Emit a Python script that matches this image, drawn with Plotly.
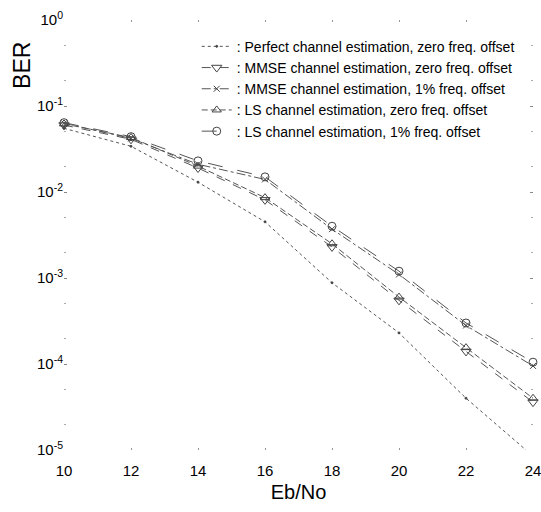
import plotly.graph_objects as go

ebno = [10, 12, 14, 16, 18, 20, 22, 24]

ber_perfect = [0.055, 0.034, 0.013, 0.0045, 0.00088, 0.00023, 0.00004, 0.0000085]
ber_mmse_zero = [0.060, 0.041, 0.019, 0.0081, 0.0023, 0.00055, 0.00014, 0.000036]
ber_ls_zero = [0.062, 0.043, 0.020, 0.0086, 0.0025, 0.00060, 0.000155, 0.000040]
ber_mmse_1pct = [0.063, 0.042, 0.021, 0.0140, 0.0037, 0.00110, 0.00028, 0.000095]
ber_ls_1pct = [0.064, 0.044, 0.023, 0.0150, 0.0040, 0.00120, 0.00030, 0.000105]

series_names = [
    ": Perfect channel estimation, zero freq. offset",
    ": MMSE channel estimation, zero freq. offset",
    ": MMSE channel estimation, 1% freq. offset",
    ": LS channel estimation, zero freq. offset",
    ": LS channel estimation, 1% freq. offset",
]

y_tickvals = [1, 0.1, 0.01, 0.001, 0.0001, 0.00001]
y_ticktext = ["10<sup>0</sup>", "10<sup>-1</sup>", "10<sup>-2</sup>",
              "10<sup>-3</sup>", "10<sup>-4</sup>", "10<sup>-5</sup>"]
x_tickvals = [10, 12, 14, 16, 18, 20, 22, 24]
x_ticktext = ["10", "12", "14", "16", "18", "20", "22", "24"]

series = [
    (ber_perfect, dict(dash="dot", width=1), dict(symbol="circle", size=2)),
    (ber_mmse_zero, dict(dash="dash", width=1), dict(symbol="triangle-down-open", size=9)),
    (ber_mmse_1pct, dict(dash="dashdot", width=1), dict(symbol="x-thin-open", size=6)),
    (ber_ls_zero, dict(dash="6px,3px", width=1), dict(symbol="triangle-up-open", size=8)),
    (ber_ls_1pct, dict(dash="longdash", width=1), dict(symbol="circle-open", size=8)),
]

fig = go.Figure()
for (vals, line, marker), name in zip(series, series_names):
    fig.add_trace(go.Scatter(
        x=ebno, y=vals, name=name, mode="lines+markers", cliponaxis=False,
        line=dict(color="#555555", **line),
        marker=dict(color="#444444", line=dict(color="#444444", width=1), **marker),
    ))

fig.add_annotation(
    text="BER", xref="paper", yref="paper", x=-0.09, y=0.895,
    xanchor="center", yanchor="middle", textangle=-90, showarrow=False,
    font=dict(size=23, color="black"),
)

fig.update_layout(
    width=541, height=512,
    margin=dict(l=64, r=8, t=20, b=62),
    paper_bgcolor="white", plot_bgcolor="white",
    font=dict(family="Liberation Sans, Arial, sans-serif", color="black"),
    showlegend=True,
    legend=dict(
        x=0.283, y=0.975, xanchor="left", yanchor="top",
        bgcolor="rgba(0,0,0,0)", borderwidth=0,
        font=dict(size=14, color="black"),
        itemwidth=30, tracegroupgap=0,
    ),
    xaxis=dict(
        range=[10, 24], tickvals=x_tickvals, ticktext=x_ticktext,
        automargin=False, ticklabeloverflow="allow", ticklabelstandoff=10,
        showgrid=False, zeroline=False, showline=False,
        ticks="inside", ticklen=2, tickcolor="#999999", mirror="ticks",
        tickfont=dict(size=15),
        title=dict(text="Eb/No", font=dict(size=20), standoff=6),
    ),
    yaxis=dict(
        type="log", range=[-5, 0], automargin=False,
        tickvals=y_tickvals, ticktext=y_ticktext,
        showgrid=False, zeroline=False, showline=False,
        ticks="inside", ticklen=3, tickcolor="#888888", mirror="ticks",
        minor=dict(ticks="inside", ticklen=2, tickcolor="#aaaaaa", showgrid=False),
        tickfont=dict(size=15),
    ),
)

fig.write_html(
    "out.html",
    config={"displayModeBar": False},
    post_script="document.body.style.margin='0';document.body.style.overflow='hidden';",
)
